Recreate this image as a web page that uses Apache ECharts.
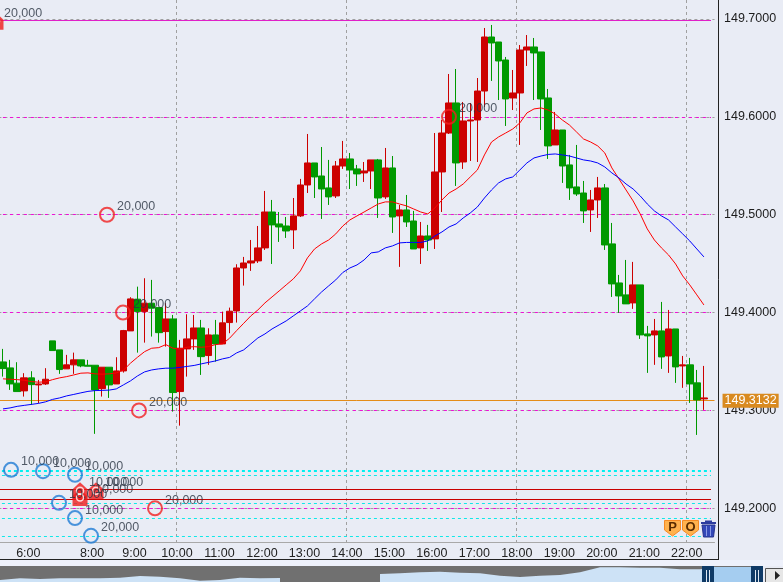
<!DOCTYPE html>
<html>
<head>
<meta charset="utf-8">
<style>html,body{margin:0;padding:0;background:#e9ecf5}#c{width:783px;height:582px}</style>
<script src="https://cdn.jsdelivr.net/npm/echarts@6/dist/echarts.min.js"></script>
</head>
<body>
<div id="c"></div>
<script>
// open, close, low, high (10-minute bars)
var candles = [
[149.3496,149.3428,149.3346,149.3629],[149.3435,149.3271,149.3210,149.3517],[149.3279,149.3193,149.3193,149.3493],
[149.3200,149.3333,149.3142,149.3381],[149.3333,149.3264,149.3057,149.3401],[149.3261,149.3271,149.3074,149.3312],
[149.3271,149.3319,149.3261,149.3432],[149.3711,149.3612,149.3612,149.3711],[149.3619,149.3418,149.3374,149.3619],
[149.3425,149.3466,149.3425,149.3568],[149.3466,149.3517,149.3374,149.3591],[149.3517,149.3455,149.3442,149.3517],
[149.3462,149.3452,149.3452,149.3517],[149.3462,149.3210,149.2761,149.3462],[149.3223,149.3442,149.3142,149.3442],
[149.3442,149.3261,149.3128,149.3442],[149.3271,149.3404,149.3271,149.3544],[149.3404,149.3816,149.3387,149.3823],
[149.3813,149.4140,149.3813,149.4157],[149.4137,149.4010,149.3591,149.4265],[149.4010,149.4096,149.3693,149.4351],
[149.4096,149.4045,149.3755,149.4334],[149.4051,149.3795,149.3693,149.4051],[149.3806,149.3935,149.3652,149.4096],
[149.3935,149.3183,149.2988,149.3976],[149.3193,149.3636,149.2845,149.3721],[149.3629,149.3731,149.3346,149.3983],
[149.3731,149.3843,149.3619,149.3976],[149.3843,149.3550,149.3363,149.3925],[149.3561,149.3772,149.3466,149.3840],
[149.3772,149.3680,149.3499,149.3925],[149.3680,149.3895,149.3680,149.4010],[149.3898,149.4014,149.3789,149.4051],
[149.4017,149.4456,149.3898,149.4494],[149.4456,149.4507,149.4276,149.4569],[149.4507,149.4528,149.4426,149.4742],
[149.4528,149.4661,149.4507,149.4885],[149.4661,149.5028,149.4640,149.5243],[149.5028,149.4896,149.4497,149.5151],
[149.4906,149.4875,149.4722,149.5028],[149.4885,149.4834,149.4763,149.4977],[149.4845,149.4988,149.4650,149.5171],
[149.4988,149.5304,149.4977,149.5366],[149.5304,149.5529,149.5222,149.5825],[149.5529,149.5386,149.5171,149.5529],
[149.5396,149.5263,149.4957,149.5692],[149.5274,149.5182,149.5100,149.5560],[149.5192,149.5498,149.5171,149.5549],
[149.5498,149.5570,149.5468,149.5754],[149.5570,149.5457,149.5263,149.5631],[149.5468,149.5417,149.5294,149.5509],
[149.5427,149.5447,149.5335,149.5539],[149.5447,149.5560,149.5263,149.5560],[149.5560,149.5171,149.4967,149.5570],
[149.5182,149.5478,149.5161,149.5682],[149.5478,149.4977,149.4814,149.5600],[149.4988,149.5049,149.4467,149.5100],
[149.5049,149.4926,149.4875,149.5202],[149.4936,149.4650,149.4650,149.5039],[149.4661,149.4783,149.4497,149.4926],
[149.4783,149.4742,149.4630,149.4896],[149.4753,149.5437,149.4650,149.5835],[149.5437,149.5835,149.5028,149.5968],
[149.5835,149.6142,149.5825,149.6438],[149.6142,149.5529,149.5294,149.6489],[149.5539,149.5958,149.5468,149.6152],
[149.5958,149.5968,149.5549,149.6142],[149.5968,149.6264,149.5539,149.6397],[149.6264,149.6816,149.6101,149.6908],
[149.6816,149.6755,149.6367,149.6939],[149.6765,149.6571,149.6172,149.6765],[149.6581,149.6183,149.5907,149.6612],
[149.6193,149.6244,149.6070,149.6479],[149.6244,149.6683,149.5713,149.6734],[149.6683,149.6714,149.6520,149.6836],
[149.6714,149.6653,149.6172,149.6806],[149.6663,149.6183,149.5866,149.6663],[149.6193,149.5703,149.5570,149.6285],
[149.5713,149.5866,149.5713,149.6050],[149.5866,149.5498,149.5325,149.5866],[149.5509,149.5274,149.5151,149.5611],
[149.5284,149.5212,149.5192,149.5713],[149.5222,149.5039,149.4916,149.5345],[149.5049,149.5151,149.4824,149.5253],
[149.5151,149.5274,149.4967,149.5386],[149.5274,149.4691,149.4640,149.5314],[149.4702,149.4293,149.4160,149.4916],
[149.4303,149.4170,149.3997,149.4385],[149.4181,149.4089,149.4089,149.4538],[149.4099,149.4283,149.4038,149.4518],
[149.4283,149.3772,149.3731,149.4283],[149.3782,149.3762,149.3384,149.3864],[149.3772,149.3813,149.3466,149.3935],
[149.3813,149.3547,149.3425,149.4109],[149.3557,149.3833,149.3384,149.4027],[149.3833,149.3445,149.3282,149.3833],
[149.3455,149.3466,149.3231,149.3557],[149.3466,149.3271,149.3077,149.3537],[149.3282,149.3108,149.2750,149.3414],
[149.3118,149.3128,149.3006,149.3455]
];
var maFast = [
149.3323,149.3319,149.3315,149.3309,149.3295,149.3289,149.3292,149.3315,149.3333,149.3346,
149.3363,149.3381,149.3384,149.3374,149.3371,149.3374,149.3384,149.3411,149.3483,149.3544,
149.3601,149.3636,149.3642,149.3673,149.3636,149.3626,149.3646,149.3652,149.3646,149.3652,
149.3673,149.3680,149.3738,149.3816,149.3891,149.3966,149.4027,149.4099,149.4160,149.4221,
149.4283,149.4344,149.4426,149.4559,149.4650,149.4702,149.4742,149.4804,149.4885,149.4947,
149.4988,149.5028,149.5069,149.5110,149.5131,149.5131,149.5110,149.5090,149.5059,149.5028,
149.5008,149.5069,149.5151,149.5222,149.5263,149.5314,149.5386,149.5457,149.5611,149.5743,
149.5795,149.5835,149.5876,149.5938,149.6040,149.6081,149.6091,149.6070,149.6029,149.5968,
149.5917,149.5846,149.5774,149.5743,149.5703,149.5631,149.5478,149.5366,149.5253,149.5141,
149.5008,149.4855,149.4742,149.4661,149.4589,149.4497,149.4375,149.4283,149.4181,149.4078
];
var maSlow = [
149.3016,149.3026,149.3042,149.3052,149.3062,149.3072,149.3088,149.3113,149.3128,149.3149,
149.3164,149.3180,149.3195,149.3203,149.3205,149.3208,149.3220,149.3261,149.3302,149.3353,
149.3394,149.3414,149.3425,149.3432,149.3432,149.3440,149.3450,149.3460,149.3476,149.3491,
149.3506,149.3527,149.3542,149.3588,149.3619,149.3680,149.3741,149.3782,149.3833,149.3874,
149.3915,149.3966,149.4017,149.4068,149.4140,149.4211,149.4273,149.4334,149.4410,149.4456,
149.4487,149.4538,149.4610,149.4620,149.4661,149.4681,149.4712,149.4717,149.4717,149.4717,
149.4732,149.4783,149.4824,149.4875,149.4906,149.4967,149.5018,149.5079,149.5171,149.5253,
149.5325,149.5366,149.5386,149.5457,149.5529,149.5580,149.5600,149.5616,149.5621,149.5611,
149.5600,149.5580,149.5560,149.5549,149.5529,149.5488,149.5427,149.5376,149.5314,149.5263,
149.5192,149.5110,149.5039,149.4988,149.4947,149.4875,149.4804,149.4732,149.4650,149.4569
];
// axis
var earlyTimes = ['5:10','5:20','5:30','5:40','5:50','6:00','6:10','6:20','6:30','6:40','7:20','7:30','7:40','7:50'];
var priceTicks = [149.2,149.3,149.4,149.5,149.6,149.7];
var gridHours = ['10:00','14:00','18:00','22:00'];
var priceMin = 149.1656, priceMax = 149.7194;
// horizontal levels
var magentaLevels = [149.6,149.5,149.4,149.3,149.2];
var magentaSolid = 149.699;
var currentPrice = 149.3132;
var cyanHeavy = 149.2386;
var cyanLevels = [149.2342,149.2053,149.1900,149.1716];
var redLevels = [149.2196,149.2094];
// trade events: bar slot, price, amount
var redEvents = [[16.19,149.5,'20,000'],[18.45,149.4,'20,000'],[20.71,149.3,'20,000'],[64.49,149.6,'20,000'],[22.97,149.2,'20,000']];
var blueEvents = [[2.63,149.2393,'10,000'],[7.15,149.2380,'10,000'],[11.67,149.2342,'10,000'],[9.41,149.2056,'10,000'],[11.67,149.1900,'10,000'],[13.93,149.1719,'20,000']];
var flagEvents = [[0.51,149.6978,'20,000',8],[12.38,149.2180,'10,000',9],[14.64,149.2180,'10,000',9],[12.38,149.2110,'10,000',15]];
// overview strip
var overview = [2,3.7,3,3.7,3.7,3.7,4.3,6,5.3,3.7,1.3,2,4.3,3.7,4,null,null,null,null,8,8.7,9.7,10.3,9.3,8.7,6.3,5,6.3,7,9.7,14.7,14.7,14.3,14.3,12.7,12.7,15,15,15];

var categories = earlyTimes.slice();
for (var h = 8; h <= 22; h++) { for (var m = 0; m < 60; m += 10) { if (categories.length < 101) categories.push(h + ':' + (m ? m : '00')); } }
categories.push('22:30');

function lead(a) { return ['-'].concat(a); }
function hline(v) { return [{xAxis: 0, yAxis: v}, {xAxis: 101, yAxis: v}]; }
var textColor = '#2a3442';
var flagPath = 'path://M0,5 L5,0 L10,5 L10,12 L0,12 Z';

var option = {
  animation: false,
  backgroundColor: '#e9ecf5',
  textStyle: {fontFamily: '"Liberation Sans"', fontSize: 12},
  grid: [
    {left: -7.62, top: 0, width: 722.16, height: 542, outerBoundsMode: 'none'},
    {left: 0, top: 566, width: 760, height: 16, show: true, backgroundColor: '#707070', borderWidth: 0, outerBoundsMode: 'none'}
  ],
  xAxis: [
    {type: 'category', data: categories, gridIndex: 0, boundaryGap: true,
      axisLine: {lineStyle: {color: '#a8a8a8'}},
      axisTick: {length: 3, lineStyle: {color: '#a8a8a8'}, interval: function (i, v) { return /:00$/.test(v); }},
      axisLabel: {color: '#222', fontSize: 12.5, margin: 5, padding: [0, 6, 0, 0], hideOverlap: false,
        interval: function (i, v) { return /:00$/.test(v); }},
      splitLine: {show: true, showMaxLine: false, lineStyle: {color: '#a0a0a0', type: [3, 3]},
        interval: function (i, v) { return gridHours.indexOf(v) >= 0; }}
    },
    {type: 'value', gridIndex: 0, min: 0, max: 102, show: false, splitLine: {show: false}},
    {type: 'category', gridIndex: 1, boundaryGap: false, show: false, data: overview.map(function (v, i) { return i; })}
  ],
  yAxis: [
    {type: 'value', gridIndex: 0, position: 'right', min: priceMin, max: priceMax, scale: true,
      axisLine: {show: false},
      axisTick: {show: false, customValues: priceTicks},
      axisLabel: {color: '#1c1c1c', fontSize: 12.5, margin: 9.5, align: 'left', padding: [2, 0, 0, 0], customValues: priceTicks,
        formatter: function (v) { return v.toFixed(4); }},
      splitLine: {show: true, lineStyle: {color: '#a0a0a0', type: [3, 3]}}
    },
    {type: 'value', gridIndex: 1, min: 0, max: 16, show: false, splitLine: {show: false}}
  ],
  series: [
    {name: 'levels', type: 'line', data: [], xAxisIndex: 0, yAxisIndex: 0, silent: true,
      markLine: {silent: true, symbol: 'none', z: 1, animation: false, label: {show: false},
        data: []
          .concat(magentaLevels.map(function (v) { var d = hline(v); d[0].lineStyle = {color: '#f010d8', width: 1, type: [3, 4]}; return d; }))
          .concat([(function () { var d = hline(magentaSolid); d[0].lineStyle = {color: '#e020c8', width: 1, type: 'solid'}; return d; })()])
          .concat([(function () { var d = hline(cyanHeavy); d[0].lineStyle = {color: '#00f0f0', width: 2, type: [3, 3]}; return d; })()])
          .concat(cyanLevels.map(function (v) { var d = hline(v); d[0].lineStyle = {color: '#10e8e8', width: 1, type: [3, 3]}; return d; }))
          .concat(redLevels.map(function (v) { var d = hline(v); d[0].lineStyle = {color: '#c80000', width: 1, type: 'solid'}; return d; }))
      }
    },
    {name: 'price', type: 'line', data: [], xAxisIndex: 0, yAxisIndex: 0, silent: true,
      markLine: {silent: true, symbol: 'none', z: 1, animation: false,
        lineStyle: {color: '#e48c18', width: 1, type: 'solid'},
        label: {show: true, position: 'end', distance: 8, color: '#fff', backgroundColor: '#d98a1f',
          padding: [1, 2, 0, 2], fontSize: 12.5, formatter: function () { return currentPrice.toFixed(4); }},
        data: [{yAxis: currentPrice}]
      }
    },
    {name: 'bars', type: 'candlestick', data: lead(candles), xAxisIndex: 0, yAxisIndex: 0, z: 2, barWidth: 7,
      itemStyle: {color: '#cc0000', color0: '#009900', borderColor: '#cc0000', borderColor0: '#009900', borderWidth: 1}
    },
    {name: 'fast', type: 'line', data: lead(maFast), xAxisIndex: 0, yAxisIndex: 0, z: 3, showSymbol: false, symbol: 'none',
      lineStyle: {color: '#ff0000', width: 1}},
    {name: 'slow', type: 'line', data: lead(maSlow), xAxisIndex: 0, yAxisIndex: 0, z: 3, showSymbol: false, symbol: 'none',
      lineStyle: {color: '#0000ff', width: 1}},
    {name: 'flags', type: 'scatter', xAxisIndex: 1, yAxisIndex: 0, z: 4, symbol: flagPath, symbolSize: [15, 17],
      itemStyle: {color: '#f01c1c'},
      data: flagEvents.map(function (e) {
        return {value: [e[0], e[1]], label: {show: true, position: 'right', distance: 0, offset: [e[3] - 7.5, -8],
          color: textColor, fontSize: 12.5, formatter: e[2]}};
      })
    },
    {name: 'flagRings', type: 'scatter', xAxisIndex: 1, yAxisIndex: 0, z: 4, symbol: 'circle', symbolSize: 7,
      itemStyle: {color: 'transparent', borderColor: '#ffffff', borderWidth: 1.5},
      data: flagEvents.map(function (e) { return [e[0], e[1]]; })
    },
    {name: 'sell', type: 'scatter', xAxisIndex: 1, yAxisIndex: 0, z: 4, symbol: 'circle', symbolSize: 14,
      itemStyle: {color: 'transparent', borderColor: '#f02020', borderWidth: 2},
      label: {show: true, position: 'right', distance: 2, offset: [0, -8], color: textColor, fontSize: 12.5,
        formatter: function (p) { return p.data[2]; }},
      data: redEvents
    },
    {name: 'buy', type: 'scatter', xAxisIndex: 1, yAxisIndex: 0, z: 4, symbol: 'circle', symbolSize: 14,
      itemStyle: {color: 'transparent', borderColor: '#1f7cd4', borderWidth: 2},
      label: {show: true, position: 'right', distance: 2, offset: [0, -8], color: textColor, fontSize: 12.5,
        formatter: function (p) { return p.data[2]; }},
      data: blueEvents
    },
    {name: 'overview', type: 'line', data: overview, xAxisIndex: 2, yAxisIndex: 1, symbol: 'none', silent: true,
      lineStyle: {width: 0}, areaStyle: {color: '#cde2f6', opacity: 1}}
  ],
  graphic: {elements: [
    {type: 'rect', shape: {x: 0, y: 560, width: 783, height: 6}, style: {fill: '#eef1fb'}, z: 0},
    {type: 'line', shape: {x1: 718.5, y1: 0, x2: 718.5, y2: 559.5}, style: {stroke: '#222', lineWidth: 1}, z: 20},
    {type: 'line', shape: {x1: 0, y1: 559.5, x2: 719, y2: 559.5}, style: {stroke: '#222', lineWidth: 1}, z: 20},
    // overview window
    {type: 'rect', shape: {x: 714, y: 567, width: 38, height: 15}, style: {fill: '#a5cdf0'}, z: 20},
    {type: 'rect', shape: {x: 702, y: 566, width: 12, height: 16}, style: {fill: '#0f3a66'}, z: 21},
    {type: 'rect', shape: {x: 751, y: 566, width: 12, height: 16}, style: {fill: '#0f3a66'}, z: 21},
    {type: 'rect', shape: {x: 706, y: 570, width: 1, height: 12}, style: {fill: '#dfe8f2'}, z: 22},
    {type: 'rect', shape: {x: 709, y: 570, width: 1, height: 12}, style: {fill: '#dfe8f2'}, z: 22},
    {type: 'rect', shape: {x: 755, y: 570, width: 1, height: 12}, style: {fill: '#dfe8f2'}, z: 22},
    {type: 'rect', shape: {x: 758, y: 570, width: 1, height: 12}, style: {fill: '#dfe8f2'}, z: 22},
    {type: 'rect', shape: {x: 763, y: 566, width: 20, height: 16}, style: {fill: '#e9ecf5'}, z: 20},
    {type: 'rect', shape: {x: 765.5, y: 568.5, width: 18, height: 14}, style: {fill: '#e6e6e6', stroke: '#555', lineWidth: 1}, z: 21},
    {type: 'polygon', shape: {points: [[775, 571], [780, 575.5], [775, 580]]}, style: {fill: '#222'}, z: 22},
    // order buttons
    {type: 'polygon', shape: {points: [[664.5, 520.5], [680.5, 520.5], [680.5, 530], [672.5, 536], [664.5, 530]]}, style: {fill: '#ffb24e', stroke: '#f58a24', lineWidth: 1}, z: 21},
    {type: 'text', style: {x: 672.5, y: 527, text: 'P', fill: '#5a2c00', font: 'bold 13px "Liberation Sans"', align: 'center', verticalAlign: 'middle'}, z: 22},
    {type: 'polygon', shape: {points: [[682.5, 520.5], [698.5, 520.5], [698.5, 530], [690.5, 536], [682.5, 530]]}, style: {fill: '#ffb24e', stroke: '#f58a24', lineWidth: 1}, z: 21},
    {type: 'text', style: {x: 690.5, y: 527, text: 'O', fill: '#5a2c00', font: 'bold 13px "Liberation Sans"', align: 'center', verticalAlign: 'middle'}, z: 22},
    // trash
    {type: 'polygon', shape: {points: [[702, 525], [715, 525], [713.5, 537], [703.5, 537]]}, style: {fill: '#3348b8', stroke: '#27348e', lineWidth: 1}, z: 21},
    {type: 'rect', shape: {x: 701, y: 522, width: 15, height: 2}, style: {fill: '#2c3c9e'}, z: 22},
    {type: 'rect', shape: {x: 705, y: 520.5, width: 7, height: 2}, style: {fill: '#2c3c9e'}, z: 22},
    {type: 'rect', shape: {x: 706, y: 526, width: 1, height: 10}, style: {fill: '#8a9ae6'}, z: 22},
    {type: 'rect', shape: {x: 710, y: 526, width: 1, height: 10}, style: {fill: '#8a9ae6'}, z: 22}
  ]}
};
var chart = echarts.init(document.getElementById('c'), null, {renderer: 'canvas'});
chart.setOption(option);
</script>
</body>
</html>
